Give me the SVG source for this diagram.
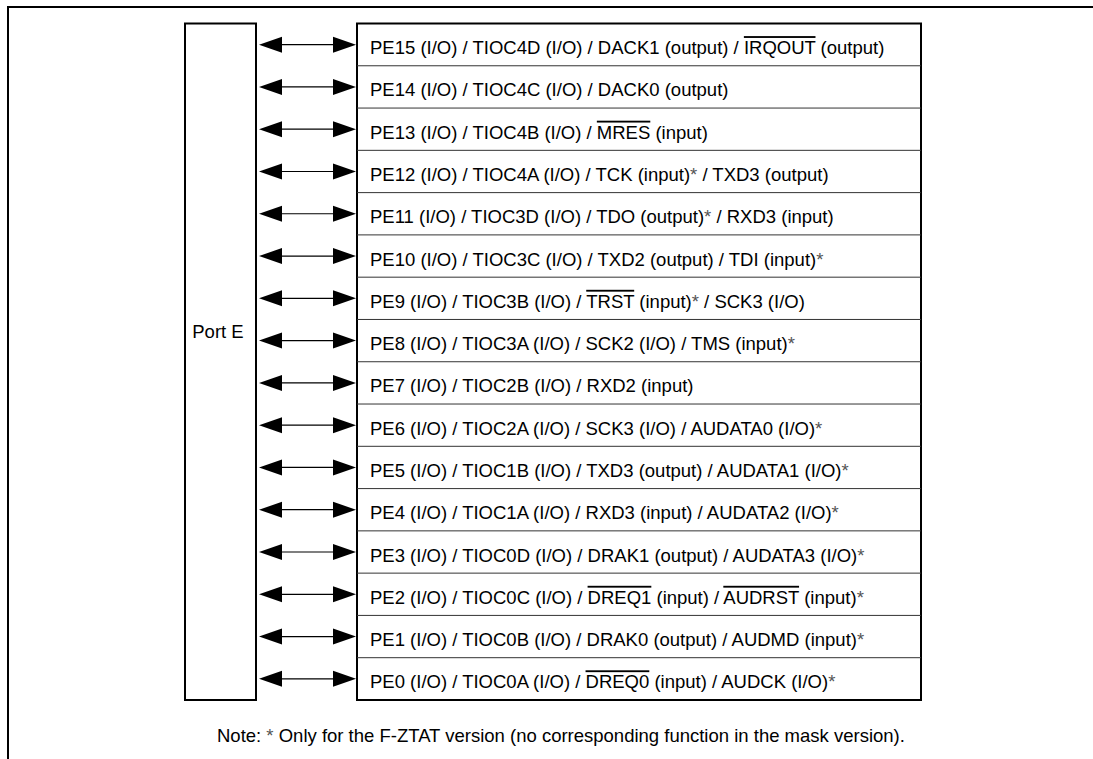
<svg xmlns="http://www.w3.org/2000/svg" xmlns:xlink="http://www.w3.org/1999/xlink" width="1093" height="759" viewBox="0 0 1093 759">
<style>
text{font-family:"Liberation Sans",Arial,sans-serif;font-size:18.5px;fill:#000}
.frame{fill:none;stroke:#000;stroke-width:2}
.box{fill:#fff;stroke:#000;stroke-width:2}
.sep{stroke:#333;stroke-width:1}
.ast{fill:#555}
.ov{text-decoration:overline}
</style>
<defs>
<g id="arrow">
<line x1="280" y1="0" x2="335" y2="0" stroke="#000" stroke-width="1.2"/>
<polygon points="259,0 282,-8 282,8" fill="#000"/>
<polygon points="356,0 333,-8 333,8" fill="#000"/>
</g>
</defs>
<rect width="1093" height="759" fill="#fff"/>
<path class="frame" d="M8,759 V7 H1093"/>
<g id="port-e">
<rect class="box" x="185" y="23.5" width="71" height="676.5"/>
<text x="218" y="338" text-anchor="middle">Port E</text>
</g>
<g id="pin-table">
<rect class="box" x="357" y="23.5" width="564" height="676.5"/>
<g class="sep">
<line x1="357" y1="65.78" x2="921" y2="65.78"/>
<line x1="357" y1="108.06" x2="921" y2="108.06"/>
<line x1="357" y1="150.34" x2="921" y2="150.34"/>
<line x1="357" y1="192.62" x2="921" y2="192.62"/>
<line x1="357" y1="234.9" x2="921" y2="234.9"/>
<line x1="357" y1="277.18" x2="921" y2="277.18"/>
<line x1="357" y1="319.46" x2="921" y2="319.46"/>
<line x1="357" y1="361.74" x2="921" y2="361.74"/>
<line x1="357" y1="404.02" x2="921" y2="404.02"/>
<line x1="357" y1="446.3" x2="921" y2="446.3"/>
<line x1="357" y1="488.58" x2="921" y2="488.58"/>
<line x1="357" y1="530.86" x2="921" y2="530.86"/>
<line x1="357" y1="573.14" x2="921" y2="573.14"/>
<line x1="357" y1="615.42" x2="921" y2="615.42"/>
<line x1="357" y1="657.7" x2="921" y2="657.7"/>
</g>
<g id="pe15"><text x="370" y="54.1">PE15 (I/O) / TIOC4D (I/O) / DACK1 (output) / <tspan class="ov">IRQOUT</tspan> (output)</text></g>
<g id="pe14"><text x="370" y="96.4">PE14 (I/O) / TIOC4C (I/O) / DACK0 (output)</text></g>
<g id="pe13"><text x="370" y="138.7">PE13 (I/O) / TIOC4B (I/O) / <tspan class="ov">MRES</tspan> (input)</text></g>
<g id="pe12"><text x="370" y="181">PE12 (I/O) / TIOC4A (I/O) / TCK (input)<tspan class="ast">*</tspan> / TXD3 (output)</text></g>
<g id="pe11"><text x="370" y="223.3">PE11 (I/O) / TIOC3D (I/O) / TDO (output)<tspan class="ast">*</tspan> / RXD3 (input)</text></g>
<g id="pe10"><text x="370" y="265.5">PE10 (I/O) / TIOC3C (I/O) / TXD2 (output) / TDI (input)<tspan class="ast">*</tspan></text></g>
<g id="pe9"><text x="370" y="307.8">PE9 (I/O) / TIOC3B (I/O) / <tspan class="ov">TRST</tspan> (input)<tspan class="ast">*</tspan> / SCK3 (I/O)</text></g>
<g id="pe8"><text x="370" y="350.1">PE8 (I/O) / TIOC3A (I/O) / SCK2 (I/O) / TMS (input)<tspan class="ast">*</tspan></text></g>
<g id="pe7"><text x="370" y="392.4">PE7 (I/O) / TIOC2B (I/O) / RXD2 (input)</text></g>
<g id="pe6"><text x="370" y="434.7">PE6 (I/O) / TIOC2A (I/O) / SCK3 (I/O) / AUDATA0 (I/O)<tspan class="ast">*</tspan></text></g>
<g id="pe5"><text x="370" y="476.9">PE5 (I/O) / TIOC1B (I/O) / TXD3 (output) / AUDATA1 (I/O)<tspan class="ast">*</tspan></text></g>
<g id="pe4"><text x="370" y="519.2">PE4 (I/O) / TIOC1A (I/O) / RXD3 (input) / AUDATA2 (I/O)<tspan class="ast">*</tspan></text></g>
<g id="pe3"><text x="370" y="561.5">PE3 (I/O) / TIOC0D (I/O) / DRAK1 (output) / AUDATA3 (I/O)<tspan class="ast">*</tspan></text></g>
<g id="pe2"><text x="370" y="603.8">PE2 (I/O) / TIOC0C (I/O) / <tspan class="ov">DREQ1</tspan> (input) / <tspan class="ov">AUDRST</tspan> (input)<tspan class="ast">*</tspan></text></g>
<g id="pe1"><text x="370" y="646.1">PE1 (I/O) / TIOC0B (I/O) / DRAK0 (output) / AUDMD (input)<tspan class="ast">*</tspan></text></g>
<g id="pe0"><text x="370" y="688.3">PE0 (I/O) / TIOC0A (I/O) / <tspan class="ov">DREQ0</tspan> (input) / AUDCK (I/O)<tspan class="ast">*</tspan></text></g>
</g>
<g id="connectors">
<use xlink:href="#arrow" y="44.64"/>
<use xlink:href="#arrow" y="86.92"/>
<use xlink:href="#arrow" y="129.2"/>
<use xlink:href="#arrow" y="171.48"/>
<use xlink:href="#arrow" y="213.76"/>
<use xlink:href="#arrow" y="256.04"/>
<use xlink:href="#arrow" y="298.32"/>
<use xlink:href="#arrow" y="340.6"/>
<use xlink:href="#arrow" y="382.88"/>
<use xlink:href="#arrow" y="425.16"/>
<use xlink:href="#arrow" y="467.44"/>
<use xlink:href="#arrow" y="509.72"/>
<use xlink:href="#arrow" y="552"/>
<use xlink:href="#arrow" y="594.28"/>
<use xlink:href="#arrow" y="636.56"/>
<use xlink:href="#arrow" y="678.84"/>
</g>
<g id="note"><text x="217" y="742">Note: <tspan class="ast">*</tspan> Only for the F-ZTAT version (no corresponding function in the mask version).</text></g>
</svg>
